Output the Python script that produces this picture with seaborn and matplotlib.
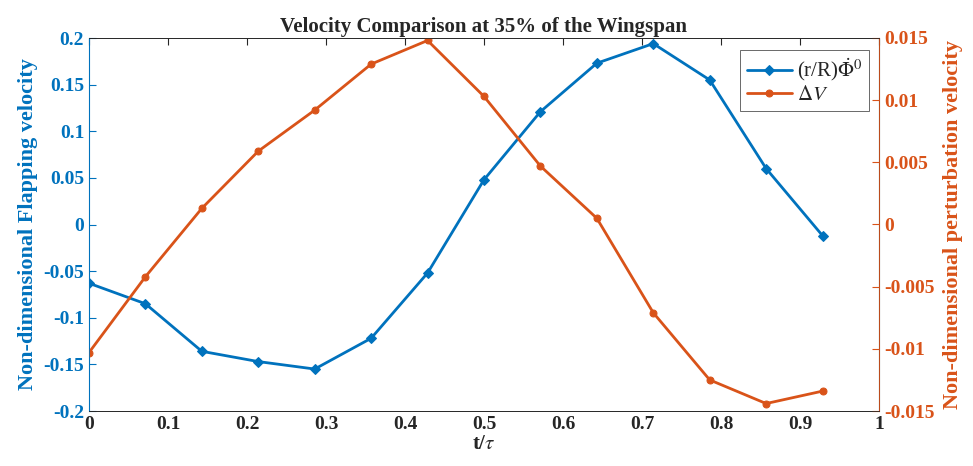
import numpy as np
import pandas as pd
import matplotlib
matplotlib.use("Agg")
import matplotlib.pyplot as plt
import seaborn as sns
from matplotlib.ticker import FuncFormatter

# datos
t = [i / 14 for i in range(14)]
flapping = [-0.063, -0.085, -0.136, -0.147, -0.155, -0.122, -0.052,
            0.048, 0.121, 0.173, 0.194, 0.155, 0.060, -0.012]
perturbacion = [-0.0103, -0.0042, 0.0013, 0.0059, 0.0092, 0.0129, 0.0148,
                0.0103, 0.0047, 0.0005, -0.0071, -0.0125, -0.0144, -0.0134]

azul = "#0072BD"
naranja = "#D95319"

sns.set_style("white")
plt.rcParams['font.family'] = ['Liberation Serif', 'DejaVu Serif']
plt.rcParams['mathtext.fontset'] = 'stix'
plt.rcParams['axes.unicode_minus'] = False

df = pd.DataFrame({"t": t, "flap": flapping, "dv": perturbacion})

fig = plt.figure(figsize=(9.73, 4.66), dpi=100)
ax = fig.add_axes([89 / 973, 1 - 411 / 466, (879 - 89) / 973, (411 - 38) / 466])
ax2 = ax.twinx()

sns.lineplot(data=df, x="t", y="flap", ax=ax, color=azul, marker="D",
             markersize=5, linewidth=2, markeredgecolor=azul,
             label=r"(r/R)$\dot{\Phi}^0$", legend=False)
sns.lineplot(data=df, x="t", y="dv", ax=ax2, color=naranja, marker="o",
             markersize=5, linewidth=2, markeredgecolor=naranja,
             label=r"$\Delta V$", legend=False)

def etiqueta(v, p):
    if abs(v) < 1e-9:
        return "0"
    return "%g" % round(v, 6)

fmt = FuncFormatter(etiqueta)
ax.set_xlim(0, 1)
ax.set_ylim(-0.2, 0.2)
ax2.set_ylim(-0.015, 0.015)
ax.set_xticks(np.arange(0, 1.01, 0.1))
ax.set_yticks(np.arange(-0.2, 0.201, 0.05))
ax2.set_yticks(np.arange(-0.015, 0.0151, 0.005))
ax.xaxis.set_major_formatter(fmt)
ax.yaxis.set_major_formatter(fmt)
ax2.yaxis.set_major_formatter(fmt)

ax.tick_params(axis="x", direction="in", top=True, length=5, labelsize=14, colors="#262626")
ax.tick_params(axis="y", direction="in", length=5, labelsize=14, colors=azul)
ax2.tick_params(axis="y", direction="in", length=5, labelsize=14, colors=naranja)
for lab in ax.get_xticklabels() + ax.get_yticklabels() + ax2.get_yticklabels():
    lab.set_fontweight("bold")

for s in ["top", "bottom"]:
    ax.spines[s].set_color("#262626")
    ax.spines[s].set_linewidth(0.6)
ax.spines["left"].set_color(azul)
ax2.spines["left"].set_color(azul)
ax2.spines["right"].set_color(naranja)
for s in ax2.spines.values():
    s.set_linewidth(0.6)

ax.set_xlabel(r"t/$\tau$", fontsize=15, fontweight="bold", labelpad=1)
ax.set_ylabel("Non-dimensional Flapping velocity", fontsize=16, fontweight="bold", color=azul, labelpad=4)
ax2.set_ylabel("Non-dimensional perturbation velocity", fontsize=16, fontweight="bold", color=naranja, labelpad=6)
ax.set_title("Velocity Comparison at 35% of the Wingspan", fontsize=15, fontweight="bold", pad=4)

h1, l1 = ax.get_legend_handles_labels()
h2, l2 = ax2.get_legend_handles_labels()
leg = ax2.legend(h1 + h2, l1 + l2, loc="upper right", fontsize=15, frameon=True,
                 fancybox=False, edgecolor="#262626", borderpad=0.3,
                 handlelength=2.2, handletextpad=0.2, labelspacing=0.1,
                 bbox_to_anchor=(1.0, 0.995))
leg.get_frame().set_linewidth(0.6)

fig.savefig("out.png", dpi=100)
